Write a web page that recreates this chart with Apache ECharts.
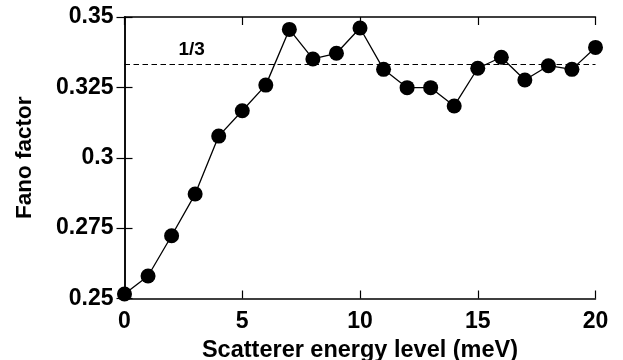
<!DOCTYPE html>
<html>
<head>
<meta charset="utf-8">
<script src="https://cdn.jsdelivr.net/npm/echarts@6/dist/echarts.min.js"></script>
<style>
  html, body { margin: 0; padding: 0; background: #fff; }
  #chart { width: 623px; height: 360px; }
</style>
</head>
<body>
<div id="chart"></div>
<script>
// energy levels (meV) and the Fano factor
const energyLevels = [0, 1, 2, 3, 4, 5, 6, 7, 8, 9, 10, 11, 12, 13, 14, 15, 16, 17, 18, 19, 20];
const fanoValues = [0.2516, 0.2580, 0.2723, 0.2871, 0.3077, 0.3167, 0.3258, 0.3456, 0.3351, 0.3371,
  0.3461, 0.3314, 0.3249, 0.3249, 0.3184, 0.3318, 0.3357, 0.3276, 0.3327, 0.3314, 0.3392];
const refValue = 1 / 3;
const refLabel = '1/3';
const refLabelPos = [2.85, 0.3383];

const chart = echarts.init(document.getElementById('chart'));
const font = 'Liberation Sans';

const points = energyLevels.map((x, i) => [x, fanoValues[i]]);

const baseAxis = {
  axisLine: { show: true, lineStyle: { color: '#000', width: 1.5 } },
  axisTick: { show: true, inside: true, length: 8, lineStyle: { color: '#000', width: 1.2 } },
  splitLine: { show: false }
};

const option = {
  animation: false,
  backgroundColor: '#fff',
  grid: { left: 124.5, right: 27.5, top: 17, bottom: 61.5, containLabel: false, outerBoundsMode: 'none' },
  xAxis: [
    Object.assign({}, baseAxis, {
      type: 'value', min: 0, max: 20, interval: 5,
      name: 'Scatterer energy level (meV)',
      nameLocation: 'middle', nameGap: 39,
      nameTextStyle: { fontFamily: font, fontWeight: 'bold', fontSize: 23.5, color: '#000' },
      axisLabel: { fontFamily: font, fontWeight: 'bold', fontSize: 23, color: '#000', margin: 12 }
    }),
    Object.assign({}, baseAxis, {
      type: 'value', min: 0, max: 20, interval: 5, position: 'top',
      axisLabel: { show: false }
    })
  ],
  yAxis: [
    Object.assign({}, baseAxis, {
      type: 'value', min: 0.25, max: 0.35, interval: 0.025,
      name: 'Fano factor',
      nameLocation: 'middle', nameGap: 88,
      nameTextStyle: { fontFamily: font, fontWeight: 'bold', fontSize: 22.5, color: '#000' },
      axisLabel: { fontFamily: font, fontWeight: 'bold', fontSize: 23, color: '#000', margin: 11 }
    }),
    Object.assign({}, baseAxis, {
      type: 'value', min: 0.25, max: 0.35, interval: 0.025, position: 'right',
      axisLabel: { show: false }
    })
  ],
  series: [
    {
      type: 'line',
      data: points,
      clip: false,
      symbol: 'circle',
      symbolSize: 15,
      itemStyle: { color: '#000' },
      lineStyle: { color: '#000', width: 1.3 },
      markLine: {
        silent: true,
        symbol: 'none',
        precision: 8,
        label: { show: false },
        lineStyle: { color: '#000', type: [5.5, 3.5], width: 1.2 },
        data: [{ yAxis: refValue }]
      },
      markPoint: {
        symbol: 'circle',
        symbolSize: 0,
        label: {
          show: true, formatter: refLabel,
          fontFamily: font, fontWeight: 'bold', fontSize: 19, color: '#000'
        },
        data: [{ coord: refLabelPos }]
      }
    }
  ]
};

chart.setOption(option);
</script>
</body>
</html>
